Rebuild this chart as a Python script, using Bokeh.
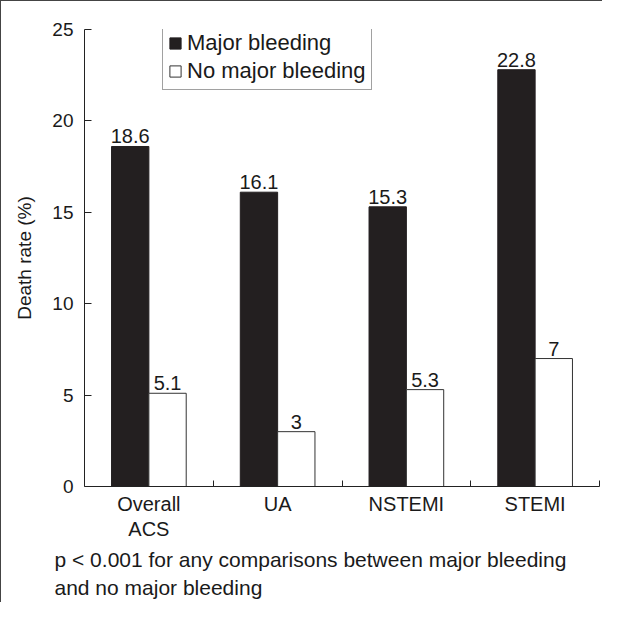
from bokeh.plotting import figure
from bokeh.models import (ColumnDataSource, Range1d, FixedTicker, Legend, LegendItem, LabelSet, Title)
from bokeh.embed import file_html
from bokeh.resources import INLINE
from bokeh.core.properties import value

categories = ["Overall\nACS", "UA", "NSTEMI", "STEMI"]
major = [18.6, 16.1, 15.3, 22.8]
no_major = [5.1, 3.0, 5.3, 7.0]
major_labels = ["18.6", "16.1", "15.3", "22.8"]
no_major_labels = ["5.1", "3", "5.3", "7"]
y_ticks = [0, 5, 10, 15, 20, 25]
y_title = "Death rate (%)"
note_line1 = "p < 0.001 for any comparisons between major bleeding"
note_line2 = "and no major bleeding"

FONT = "Liberation Sans"
BLACK = "#231f20"
TXT = "#1a1a1a"
BAR_W = 0.29

centers = [i + 0.5 for i in range(len(categories))]
src_major = ColumnDataSource(dict(x=[c - BAR_W / 2 for c in centers], top=major, lab=major_labels))
src_no = ColumnDataSource(dict(x=[c + BAR_W / 2 for c in centers], top=no_major, lab=no_major_labels))

p = figure(width=602, height=602, output_backend="svg", toolbar_location=None,
           x_range=Range1d(0, len(categories)), y_range=Range1d(0, 25),
           min_border_left=83, min_border_right=4, min_border_top=28, min_border_bottom=117)
p.styles = {"border-top": "1px solid #444", "border-left": "1px solid #444",
            "border-right": "none", "border-bottom": "none"}
p.outline_line_color = None
p.border_fill_color = "white"
p.xgrid.visible = False
p.ygrid.visible = False

r1 = p.vbar(x="x", top="top", width=BAR_W, source=src_major, fill_color=BLACK, line_color=BLACK, line_width=1)
r2 = p.vbar(x="x", top="top", width=BAR_W, source=src_no, fill_color="white", line_color="#333333", line_width=1)

for src in (src_major, src_no):
    p.add_layout(LabelSet(x="x", y="top", text="lab", source=src, text_align="center",
                          text_baseline="bottom", y_offset=3, text_font=value(FONT),
                          text_font_size="20px", text_color=TXT))

ya = p.yaxis[0]
ya.ticker = FixedTicker(ticks=y_ticks)
ya.major_tick_in = 7
ya.major_tick_out = 0
ya.minor_tick_line_color = None
ya.axis_line_color = "#222222"
ya.major_tick_line_color = "#222222"
ya.major_label_text_font = FONT
ya.major_label_text_font_size = "19px"
ya.major_label_text_color = TXT
ya.major_label_standoff = 11
ya.axis_label = y_title
ya.axis_label_text_font = FONT
ya.axis_label_text_font_size = "19px"
ya.axis_label_text_font_style = "normal"
ya.axis_label_text_color = TXT
ya.axis_label_standoff = 14

xa = p.xaxis[0]
xa.ticker = FixedTicker(ticks=centers, minor_ticks=[1, 2, 3, 4])
xa.major_label_overrides = {c: cat for c, cat in zip(centers, categories)}
xa.major_tick_in = 0
xa.major_tick_out = 0
xa.minor_tick_in = 6
xa.minor_tick_out = 0
xa.minor_tick_line_color = "#222222"
xa.axis_line_color = "#222222"
xa.major_label_text_font = FONT
xa.major_label_text_font_size = "20px"
xa.major_label_text_line_height = 1.15
xa.major_label_text_color = TXT
xa.major_label_standoff = 6

legend = Legend(items=[LegendItem(label="Major bleeding", renderers=[r1]),
                       LegendItem(label="No major bleeding", renderers=[r2])],
                location=(78, 396), orientation="vertical")
legend.label_text_font = FONT
legend.label_text_font_size = "22px"
legend.label_text_color = TXT
legend.glyph_width = 14
legend.glyph_height = 14
legend.label_standoff = 5
legend.label_height = 22
legend.spacing = 2
legend.padding = 5
legend.margin = 0
legend.border_line_color = "#444444"
legend.border_line_width = 1
legend.background_fill_alpha = 1
p.add_layout(legend)

for txt, sd in ((note_line1, 6), (note_line2, 1)):
    p.add_layout(Title(text=txt, align="left", offset=-30, standoff=sd,
                       text_font=FONT, text_font_size="21px", text_font_style="normal",
                       text_color=TXT), "below")

open("out.html", "w").write(file_html(p, INLINE))
